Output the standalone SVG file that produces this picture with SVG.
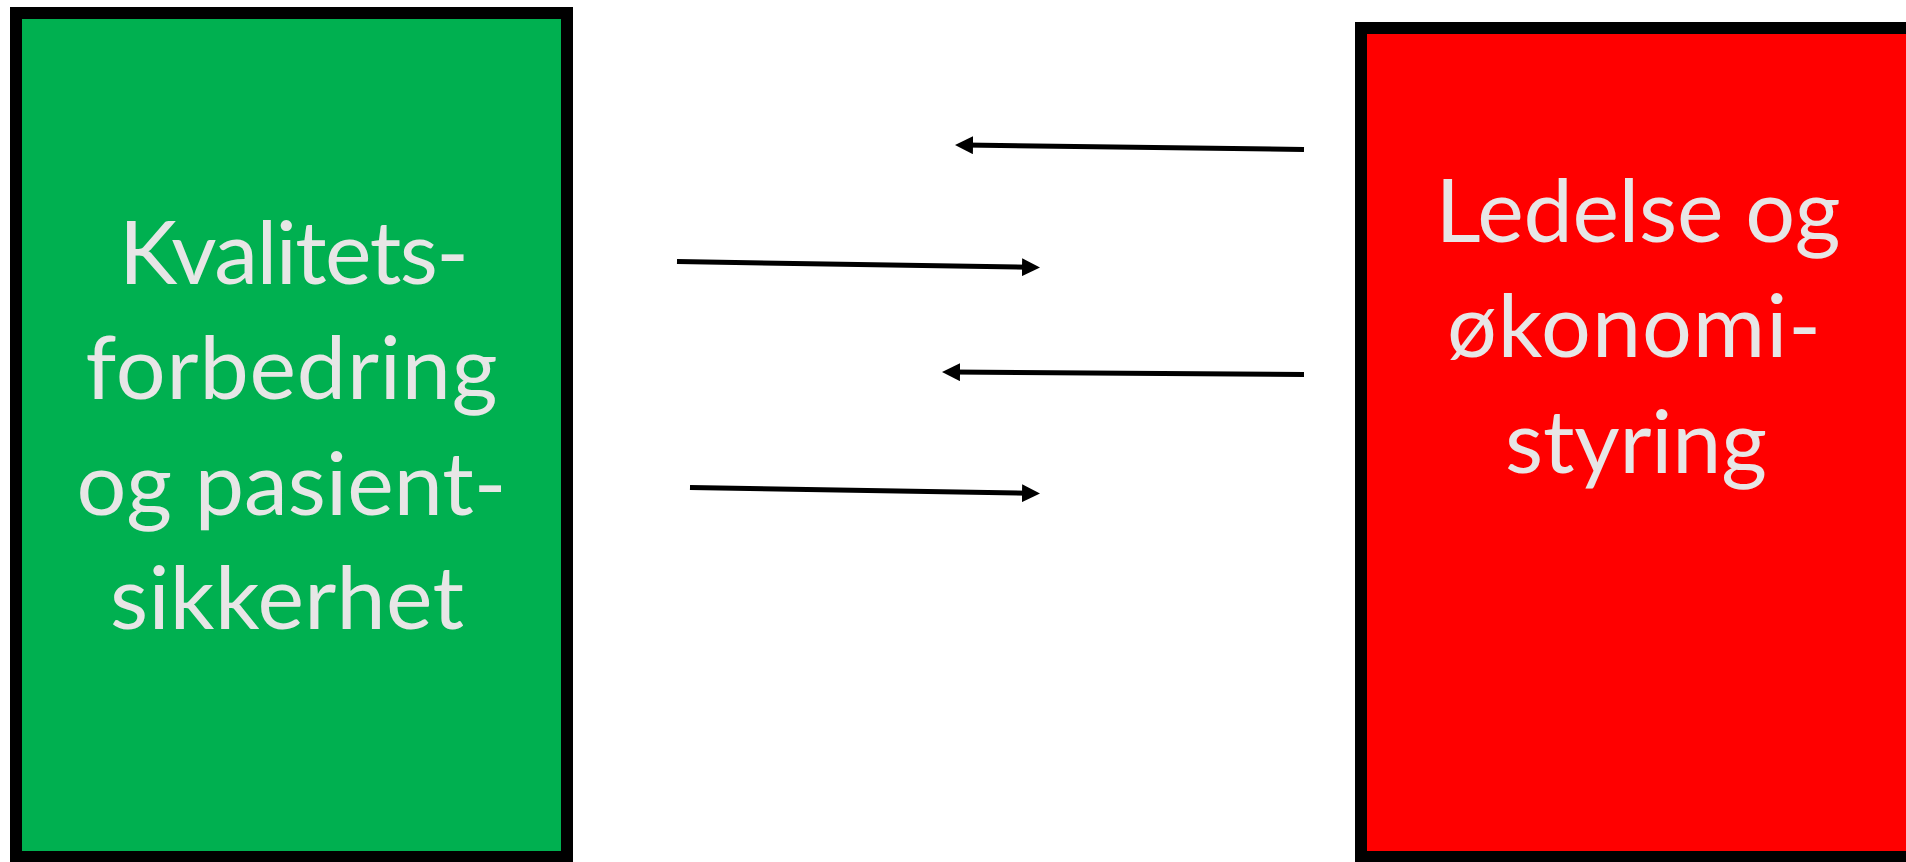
<svg xmlns="http://www.w3.org/2000/svg" width="1906" height="862" viewBox="0 0 1906 862">
  <style>
    .box { stroke: #000000; stroke-width: 12; }
    .lbl { font-family: Lato, "Open Sans", "Liberation Sans", sans-serif; font-size: 88px; fill: #E7E6E6; text-anchor: middle; }
    .conn { stroke: #000000; stroke-width: 5; fill: none; marker-end: url(#arrow); }
  </style>
  <defs>
    <marker id="arrow" viewBox="0 0 18 18" markerWidth="18" markerHeight="18" refX="8" refY="9" orient="auto" markerUnits="userSpaceOnUse">
      <path d="M0,0 L18,9 L0,18 Z" fill="#000000"/>
    </marker>
  </defs>
  <rect x="0" y="0" width="1906" height="862" fill="#FFFFFF"/>
  <g id="node-kvalitet">
    <rect class="box" x="16" y="13" width="551" height="844" fill="#00B050"/>
    <text class="lbl" x="294" y="284" textLength="350">Kvalitets-</text>
    <text class="lbl" x="291.5" y="399" textLength="412">forbedring</text>
    <text class="lbl" x="291.5" y="515" textLength="430">og pasient-</text>
    <text class="lbl" x="287" y="629" textLength="354">sikkerhet</text>
  </g>
  <g id="node-ledelse">
    <rect class="box" x="1361" y="28" width="600" height="829" fill="#FF0000"/>
    <text class="lbl" x="1638" y="242" textLength="405">Ledelse og</text>
    <text class="lbl" x="1634" y="357" textLength="374">økonomi-</text>
    <text class="lbl" x="1636" y="473" textLength="262">styring</text>
  </g>
  <g id="connectors">
    <line class="conn" x1="1304" y1="149.5" x2="965" y2="145.1"/>
    <line class="conn" x1="677" y1="261.5" x2="1030" y2="267.3"/>
    <line class="conn" x1="1304" y1="374.5" x2="952" y2="372.1"/>
    <line class="conn" x1="690" y1="487.5" x2="1030" y2="493.3"/>
  </g>
</svg>
